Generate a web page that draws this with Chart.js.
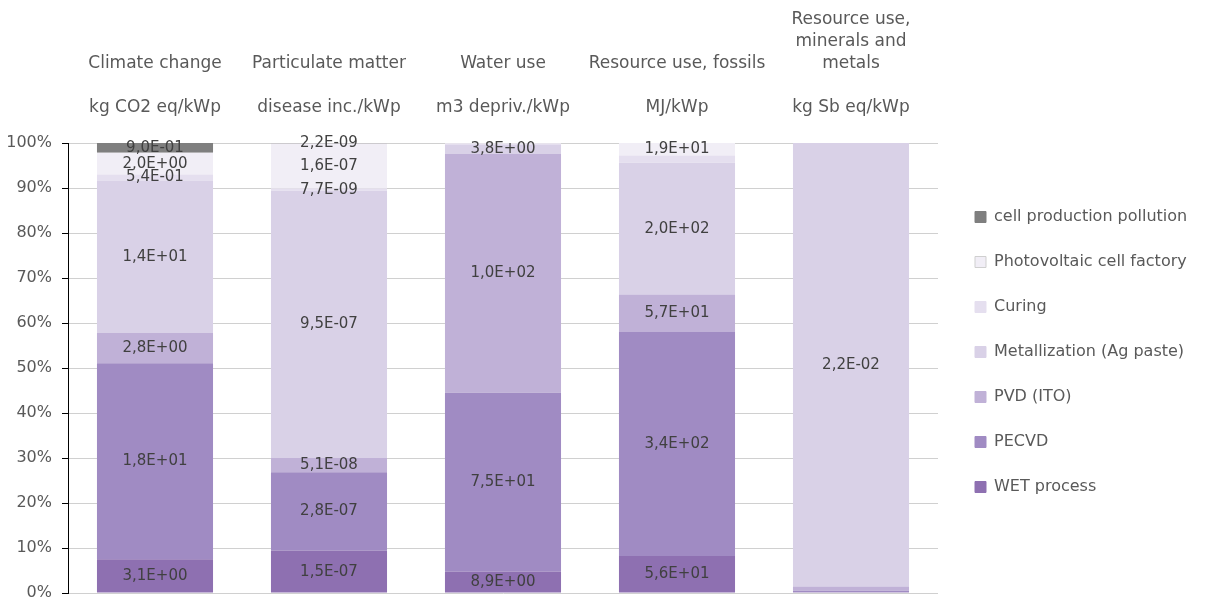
<!DOCTYPE html>
<html>
<head>
<meta charset="utf-8">
<title>Cell production impacts per kWp</title>
<script src="https://cdn.jsdelivr.net/npm/chart.js@4/dist/chart.umd.min.js"></script>
<style>
  html, body { margin: 0; padding: 0; background: #ffffff; }
  #wrap { width: 1218px; height: 602px; }
</style>
</head>
<body>
<div id="wrap"><canvas id="chart" width="1218" height="602"></canvas></div>
<script>
// Impact categories (name, blank spacer line, unit)
const categories = [
  ['Climate change', '', 'kg CO2 eq/kWp'],
  ['Particulate matter', '', 'disease inc./kWp'],
  ['Water use', '', 'm3 depriv./kWp'],
  ['Resource use, fossils', '', 'MJ/kWp'],
  ['Resource use,', 'minerals and', 'metals', '', 'kg Sb eq/kWp']
];

// Absolute contribution of each process step, one value per category
const wetProcess      = [3.1, 1.5e-7, 8.9, 56, 4e-5];
const pecvd           = [18, 2.8e-7, 75, 340, 7e-5];
const pvdIto          = [2.8, 5.1e-8, 100, 57, 2.1e-4];
const metallization   = [14, 9.5e-7, 3.8, 200, 2.2e-2];
const curing          = [0.54, 7.7e-9, 0.45, 11, 0];
const cellFactory     = [2.0, 1.6e-7, 0.35, 19, 0];
const cellPollution   = [0.9, 2.2e-9, 0, 0, 0];

const seriesNames = [
  'WET process', 'PECVD', 'PVD (ITO)', 'Metallization (Ag paste)',
  'Curing', 'Photovoltaic cell factory', 'cell production pollution'
];
const seriesValues = [wetProcess, pecvd, pvdIto, metallization, curing, cellFactory, cellPollution];
const seriesColors = ['#8e70b1', '#a08bc3', '#c0b1d7', '#d9d1e7', '#e5dfef', '#f1eef6', '#7f7f7f'];

// Segments that carry no value label: [category index, series name]
const unlabelledSegments = [
  [2, 'Curing'], [2, 'Photovoltaic cell factory'],
  [3, 'Curing'],
  [4, 'WET process'], [4, 'PECVD'], [4, 'PVD (ITO)']
];

const yTicks = [0, 10, 20, 30, 40, 50, 60, 70, 80, 90, 100];

const FONT = "'DejaVu Sans', sans-serif";
const TEXT_GREY = '#595959';

// Each column is shown as a share of its own total
const totals = categories.map((_, c) => seriesValues.reduce((s, arr) => s + arr[c], 0));
const shares = seriesValues.map(arr => arr.map((v, c) => v / totals[c] * 100));

function formatSci(v) {
  const [mant, exp] = v.toExponential(1).split('e');
  const e = parseInt(exp, 10);
  const sign = e < 0 ? '-' : '+';
  return mant.replace('.', ',') + 'E' + sign + String(Math.abs(e)).padStart(2, '0');
}

const datasets = seriesNames.map((name, i) => ({
  label: name,
  data: shares[i],
  rawValues: seriesValues[i],
  backgroundColor: seriesColors[i],
  borderWidth: 0,
  barPercentage: 0.667,
  categoryPercentage: 1.0
}));

// Writes each segment's absolute value in the middle of the segment
const segmentLabels = {
  id: 'segmentLabels',
  afterDatasetsDraw(chart) {
    const ctx = chart.ctx;
    ctx.save();
    ctx.font = '15px ' + FONT;
    ctx.fillStyle = '#404040';
    ctx.textAlign = 'center';
    ctx.textBaseline = 'middle';
    chart.data.datasets.forEach((ds, di) => {
      const meta = chart.getDatasetMeta(di);
      meta.data.forEach((bar, ci) => {
        const raw = ds.rawValues[ci];
        if (!raw) return;
        if (unlabelledSegments.some(([c, n]) => c === ci && n === ds.label)) return;
        const { x, y, base } = bar.getProps(['x', 'y', 'base'], true);
        ctx.fillText(formatSci(raw), x, (y + base) / 2);
      });
    });
    ctx.restore();
  }
};

// Fixed-width legend column to the right of the plot
const LEGEND_WIDTH = 280;
const legendFrame = {
  id: 'legendFrame',
  beforeLayout(chart) {
    const lg = chart.legend;
    if (lg && !lg.$fixedWidth) {
      const fit = lg.fit;
      lg.fit = function () { fit.call(this); this.width = LEGEND_WIDTH; };
      lg.$fixedWidth = true;
    }
  },
  afterLayout(chart) {
    const lg = chart.legend;
    if (!lg) return;
    const pad = lg.options.labels.padding;
    lg.left = chart.chartArea.right + 37 - pad;
    lg.top = chart.chartArea.top + 66 - pad;
  }
};

new Chart(document.getElementById('chart'), {
  type: 'bar',
  data: { labels: categories, datasets },
  plugins: [segmentLabels, legendFrame],
  options: {
    responsive: false,
    animation: false,
    layout: { padding: { top: 0, bottom: 9, left: 0, right: 0 } },
    plugins: {
      tooltip: { enabled: false },
      legend: {
        position: 'right',
        align: 'start',
        reverse: true,
        labels: {
          boxWidth: 11,
          boxHeight: 11,
          padding: 29,
          color: TEXT_GREY,
          font: { family: FONT, size: 16 },
          generateLabels(chart) {
            const items = Chart.defaults.plugins.legend.labels.generateLabels(chart);
            items.forEach(it => {
              it.lineWidth = 1;
              it.strokeStyle = it.text === 'Photovoltaic cell factory' ? '#cfcfcf' : it.fillStyle;
            });
            return items;
          }
        }
      }
    },
    scales: {
      x: {
        position: 'top',
        stacked: true,
        grid: { display: false, drawTicks: false },
        border: { display: false },
        ticks: {
          autoSkip: false,
          maxRotation: 0,
          minRotation: 0,
          padding: 24,
          color: TEXT_GREY,
          font: { family: FONT, size: 17, lineHeight: '22px' }
        },
        afterFit(scale) {
          scale.height = 143;
          scale.paddingLeft = 0;
          scale.paddingRight = 0;
        }
      },
      y: {
        stacked: true,
        min: 0,
        max: 100,
        afterBuildTicks(scale) { scale.ticks = yTicks.map(v => ({ value: v })); },
        ticks: {
          padding: 10,
          color: TEXT_GREY,
          font: { family: FONT, size: 16 },
          callback: v => v + '%'
        },
        grid: { color: '#d0d0d0', lineWidth: 1, tickColor: '#000000', tickLength: 6 },
        border: { color: '#000000', width: 1 },
        afterFit(scale) {
          scale.width = 68;
          scale.paddingTop = 0;
          scale.paddingBottom = 0;
        }
      }
    }
  }
});
</script>
</body>
</html>
